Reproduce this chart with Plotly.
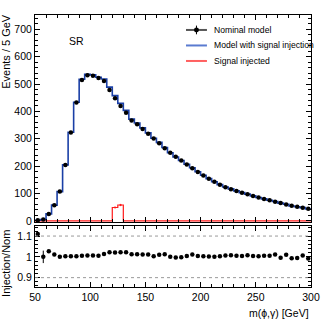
import plotly.graph_objects as go

# 5 GeV bins from 50 to 300
BIN_LO = 50
BIN_W = 5
N_BINS = 50
edges = [BIN_LO + BIN_W * i for i in range(N_BINS + 1)]
centers = [BIN_LO + BIN_W * (i + 0.5) for i in range(N_BINS)]

nominal = [
    2, 5, 25, 57, 107, 204, 323, 432, 515, 532,
    530, 522, 511, 478, 448, 420, 395, 367, 353, 336,
    318, 301, 284, 265, 249, 234, 221, 206, 192, 179,
    166, 154, 143, 132, 123, 116, 109, 103, 97, 91,
    85, 80, 75, 70, 65, 60, 55, 52, 48, 44,
]
nominal_err = [
    1, 1, 2, 2, 3, 3, 3, 3, 3, 3,
    3, 3, 3, 3, 3, 3, 3, 3, 3, 3,
    2, 2, 2, 2, 2, 2, 2, 2, 2, 2,
    2, 2, 2, 2, 2, 2, 2, 2, 2, 2,
    2, 2, 2, 2, 2, 2, 2, 2, 2, 2,
]
ratio = [
    1.110, 1.000, 1.027, 1.011, 1.000, 1.003, 1.003, 1.003, 1.005, 1.006,
    1.006, 1.005, 1.014, 1.022, 1.021, 1.022, 1.022, 1.013, 1.013, 1.011,
    1.011, 1.003, 1.010, 1.012, 1.000, 0.997, 0.998, 1.004, 1.011, 1.004,
    1.003, 1.002, 1.001, 1.003, 1.007, 1.008, 1.005, 1.004, 1.008, 1.004,
    1.003, 1.005, 1.005, 1.011, 0.996, 1.010, 0.993, 0.995, 1.007, 0.992,
]
ratio_err = [
    0.010, 0.030, 0.006, 0.004, 0.003, 0.003, 0.003, 0.003, 0.003, 0.003,
    0.003, 0.003, 0.003, 0.003, 0.003, 0.003, 0.003, 0.003, 0.003, 0.003,
    0.003, 0.003, 0.003, 0.003, 0.003, 0.003, 0.003, 0.003, 0.003, 0.003,
    0.003, 0.003, 0.003, 0.003, 0.003, 0.003, 0.003, 0.003, 0.003, 0.003,
    0.003, 0.003, 0.003, 0.003, 0.003, 0.003, 0.003, 0.003, 0.003, 0.003,
]
signal = [0] * 14 + [49, 58] + [0] * 34
signal_err = [0] * 14 + [4, 4] + [0] * 34

legend_labels = ["Nominal model", "Model with signal injection", "Signal injected"]

injected = [n * r for n, r in zip(nominal, ratio)]

FONT = "Liberation Sans, Arial, sans-serif"
BLUE = "#1a3fa6"
RED = "#ff1a1a"

fig = go.Figure()

# signal injected (red step, zero elsewhere)
fig.add_trace(go.Scatter(
    x=edges, y=signal + [signal[-1]], mode="lines", line={"color": RED, "width": 1.2, "shape": "hv"},
    showlegend=False, xaxis="x", yaxis="y",
))
sig_idx = [i for i, s in enumerate(signal) if s > 0]
fig.add_trace(go.Scatter(
    x=[centers[i] for i in sig_idx], y=[signal[i] for i in sig_idx], mode="markers",
    marker={"color": RED, "size": 1},
    error_y={"type": "data", "array": [signal_err[i] for i in sig_idx], "color": RED, "thickness": 1, "width": 0},
    error_x={"type": "constant", "value": 1.2, "color": RED, "thickness": 1, "width": 0},
    showlegend=False, xaxis="x", yaxis="y",
))

# model with signal injection (blue step)
fig.add_trace(go.Scatter(
    x=edges, y=injected + [injected[-1]], mode="lines", line={"color": BLUE, "width": 1.6, "shape": "hv"},
    showlegend=False, xaxis="x", yaxis="y",
))

# nominal model points
fig.add_trace(go.Scatter(
    x=centers, y=nominal, mode="markers",
    marker={"color": "black", "size": 4.5},
    error_y={"type": "data", "array": nominal_err, "color": "black", "thickness": 1, "width": 0},
    showlegend=False, xaxis="x", yaxis="y",
))

# ratio panel
fig.add_trace(go.Scatter(
    x=centers, y=ratio, mode="markers",
    marker={"color": "black", "size": 4.5},
    error_y={"type": "data", "array": ratio_err, "color": "black", "thickness": 1, "width": 0},
    showlegend=False, xaxis="x2", yaxis="y2",
))

for lvl in (0.9, 1.1):
    fig.add_shape(type="line", xref="x2", yref="y2", x0=BIN_LO, x1=edges[-1], y0=lvl, y1=lvl,
                  line={"color": "#999999", "width": 1, "dash": "dot"})

# hand-drawn legend (ROOT style box-less legend)
leg_x0, leg_x1, leg_tx = 0.547, 0.623, 0.641
leg_y = [0.945, 0.888, 0.831]
leg_colors = ["#555555", "#5a7bd0", "#ff6060"]
for label, ly, col in zip(legend_labels, leg_y, leg_colors):
    fig.add_shape(type="line", xref="paper", yref="paper", x0=leg_x0, x1=leg_x1, y0=ly, y1=ly,
                  line={"color": col, "width": 2})
    fig.add_annotation(text=label, xref="paper", yref="paper", x=leg_tx, y=ly, showarrow=False,
                       font={"family": FONT, "size": 8.6}, xanchor="left", yanchor="middle")
mid = (leg_x0 + leg_x1) / 2
fig.add_shape(type="line", xref="paper", yref="paper", x0=mid, x1=mid, y0=leg_y[0] - 0.016, y1=leg_y[0] + 0.016,
              line={"color": "black", "width": 1})
fig.add_shape(type="circle", xref="paper", yref="paper", x0=mid - 0.009, x1=mid + 0.009,
              y0=leg_y[0] - 0.009, y1=leg_y[0] + 0.009, fillcolor="black", line={"color": "black", "width": 0})

axis_common = dict(
    showline=True, linecolor="black", linewidth=1, mirror="ticks",
    ticks="inside", tickcolor="black", ticklen=5, showgrid=False, zeroline=False,
    tickfont={"family": FONT, "size": 10.5, "color": "black"},
)

fig.update_layout(
    width=332, height=322,
    margin={"l": 35, "r": 21, "t": 15, "b": 35},
    plot_bgcolor="white", paper_bgcolor="white",
    font={"family": FONT, "color": "black"},
    showlegend=False,
    xaxis={**axis_common, "domain": [0, 1], "anchor": "y", "range": [50, 300], "matches": "x2",
           "dtick": 50, "showticklabels": False,
           "minor": {"dtick": 10, "ticks": "inside", "ticklen": 3, "tickcolor": "black"}},
    yaxis={**axis_common, "domain": [0.239, 1], "anchor": "x", "range": [-4, 752], "dtick": 100,
           "minor": {"dtick": 20, "ticks": "inside", "ticklen": 3, "tickcolor": "black"}},
    xaxis2={**axis_common, "domain": [0, 1], "anchor": "y2", "range": [50, 300], "dtick": 50,
            "minor": {"dtick": 10, "ticks": "inside", "ticklen": 3, "tickcolor": "black"}},
    yaxis2={**axis_common, "domain": [0, 0.224], "anchor": "x2", "range": [0.855, 1.148],
            "tickvals": [0.9, 1.0, 1.1], "ticktext": ["0.9", "1", "1.1"],
            "minor": {"dtick": 0.02, "ticks": "inside", "ticklen": 3, "tickcolor": "black"}},
)

fig.add_annotation(text="SR", xref="paper", yref="paper", x=0.116, y=0.903, showarrow=False,
                   font={"family": FONT, "size": 10.5}, xanchor="left", yanchor="middle")
fig.add_annotation(text="Events / 5 GeV", xref="paper", yref="paper", x=-0.105, y=1.01, showarrow=False,
                   textangle=-90, font={"family": FONT, "size": 11}, xanchor="center", yanchor="top")
fig.add_annotation(text="Injection/Nom", xref="paper", yref="paper", x=-0.105, y=0.085, showarrow=False,
                   textangle=-90, font={"family": FONT, "size": 11}, xanchor="center", yanchor="middle")
fig.add_annotation(text="m(ϕ,γ) [GeV]", xref="paper", yref="paper", x=1.0, y=-0.096, showarrow=False,
                   font={"family": FONT, "size": 10.5}, xanchor="right", yanchor="middle")

fig.write_html("out.html", config={"displayModeBar": False},
               post_script="document.body.style.margin = '0';")
